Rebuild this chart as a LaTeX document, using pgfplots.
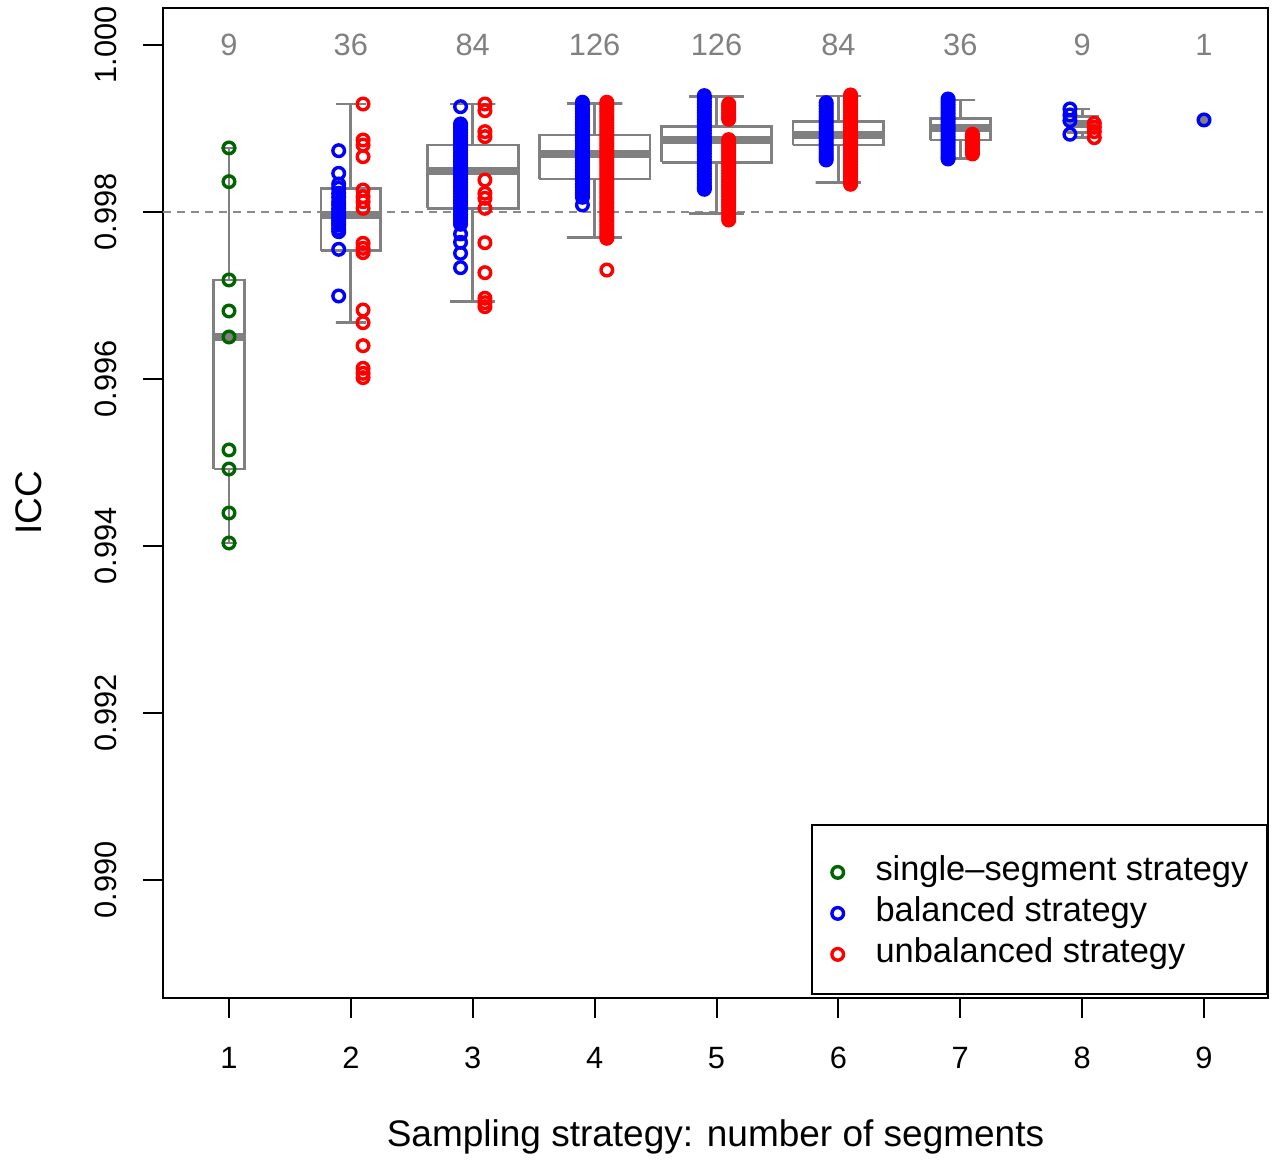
\documentclass[border=0pt]{standalone}
\usepackage{fontspec}
\setmainfont{Liberation Sans}
\usepackage{pgfplots}
\pgfplotsset{compat=1.18}
\definecolor{boxgray}{RGB}{128,128,128}
\definecolor{dashgray}{RGB}{140,140,140}
\definecolor{dgreen}{RGB}{0,100,0}
\pgfplotsset{
  bx/.style={forget plot, draw=boxgray, line width=1.4pt, mark=none, line join=miter},
  md/.style={forget plot, draw=boxgray, line width=4pt, mark=none},
  mypts/.style={only marks, mark=o, mark size=2.9pt, line width=1.7pt, every mark/.append style={line width=1.7pt, solid}},
}
\begin{document}
\begin{tikzpicture}
\begin{axis}[
  scale only axis, width=552.5pt, height=495pt,
  xmin=0.4585, xmax=9.525, ymin=0.988587, ymax=1.000443,
  axis line style={line width=1pt, black},
  xtick={1,...,9}, ytick={0.990,0.992,0.994,0.996,0.998,1.000},
  xtick pos=bottom, ytick pos=left, tick align=outside, major tick length=10pt,
  tick style={line width=1pt, black},
  scaled y ticks=false,
  /pgf/number format/assume math mode=true,
  ticklabel style={font=\fontsize{15.4}{18}\selectfont},
  yticklabel style={/pgf/number format/.cd, fixed, fixed zerofill, precision=3, /tikz/.cd, xshift=-13pt, rotate=90, anchor=base, inner sep=0pt},
  xticklabel style={anchor=north, inner sep=0pt, yshift=-14.3pt},
  xlabel={Sampling strategy: number of segments},
  ylabel={ICC},
  label style={font=\fontsize{18.5}{22}\selectfont},
  xlabel style={at={(axis description cs:0.5,-0.1505)}, anchor=base, inner sep=0pt},
  ylabel style={at={(axis description cs:-0.1099,0.5)}, anchor=base, inner sep=0pt},
  clip=false,
  legend style={draw=none, fill=none, at={(rel axis cs:0.6050,0.13939)}, anchor=north west,
    inner sep=0pt, row sep=8.5pt, column sep=16pt, font=\fontsize{17.2}{20}\selectfont,
    nodes={inner sep=0pt, text height=10pt, text depth=2pt}},
  legend cell align=left,
  legend image code/.code={\draw[#1] plot coordinates {(0pt,0pt)};},
]
% reference line
\addplot[draw=dashgray, line width=0.75pt, dash pattern=on 4pt off 3pt, forget plot] coordinates {(0.4585,0.998) (9.525,0.998)};
% boxplots: upper whisker+cap, box, lower whisker+cap, median
% group 1
\addplot[bx] coordinates {(0.9375,0.998767) (1.0625,0.998767) (1,0.998767) (1,0.997186)};
\addplot[bx] coordinates {(0.875,0.994922) (1.125,0.994922) (1.125,0.997186) (0.875,0.997186) (0.875,0.994922)};
\addplot[bx] coordinates {(1,0.994922) (1,0.994036) (0.9375,0.994036) (1.0625,0.994036)};
\addplot[md] coordinates {(0.875,0.996503) (1.125,0.996503)};
% group 2
\addplot[bx] coordinates {(1.8775,0.999293) (2.1225,0.999293) (2,0.999293) (2,0.998284)};
\addplot[bx] coordinates {(1.755,0.997537) (2.245,0.997537) (2.245,0.998284) (1.755,0.998284) (1.755,0.997537)};
\addplot[bx] coordinates {(2,0.997537) (2,0.996674) (1.8775,0.996674) (2.1225,0.996674)};
\addplot[md] coordinates {(1.755,0.997960) (2.245,0.997960)};
% group 3
\addplot[bx] coordinates {(2.814,0.999293) (3.186,0.999293) (3,0.999293) (3,0.998802)};
\addplot[bx] coordinates {(2.6275,0.998044) (3.3725,0.998044) (3.3725,0.998802) (2.6275,0.998802) (2.6275,0.998044)};
\addplot[bx] coordinates {(3,0.998044) (3,0.996926) (2.814,0.996926) (3.186,0.996926)};
\addplot[md] coordinates {(2.6275,0.998491) (3.3725,0.998491)};
% group 4
\addplot[bx] coordinates {(3.7725,0.999302) (4.2275,0.999302) (4,0.999302) (4,0.998922)};
\addplot[bx] coordinates {(3.545,0.998395) (4.455,0.998395) (4.455,0.998922) (3.545,0.998922) (3.545,0.998395)};
\addplot[bx] coordinates {(4,0.998395) (4,0.997697) (3.7725,0.997697) (4.2275,0.997697)};
\addplot[md] coordinates {(3.545,0.998695) (4.455,0.998695)};
% group 5
\addplot[bx] coordinates {(4.775,0.999381) (5.225,0.999381) (5,0.999381) (5,0.999022)};
\addplot[bx] coordinates {(4.55,0.998595) (5.45,0.998595) (5.45,0.999022) (4.55,0.999022) (4.55,0.998595)};
\addplot[bx] coordinates {(5,0.998595) (5,0.997984) (4.775,0.997984) (5.225,0.997984)};
\addplot[md] coordinates {(4.55,0.998859) (5.45,0.998859)};
% group 6
\addplot[bx] coordinates {(5.814,0.999389) (6.186,0.999389) (6,0.999389) (6,0.999082)};
\addplot[bx] coordinates {(5.6275,0.998802) (6.3725,0.998802) (6.3725,0.999082) (5.6275,0.999082) (5.6275,0.998802)};
\addplot[bx] coordinates {(6,0.998802) (6,0.998351) (5.814,0.998351) (6.186,0.998351)};
\addplot[md] coordinates {(5.6275,0.998926) (6.3725,0.998926)};
% group 7
\addplot[bx] coordinates {(6.8775,0.999341) (7.1225,0.999341) (7,0.999341) (7,0.999122)};
\addplot[bx] coordinates {(6.755,0.998862) (7.245,0.998862) (7.245,0.999122) (6.755,0.999122) (6.755,0.998862)};
\addplot[bx] coordinates {(7,0.998862) (7,0.998643) (6.8775,0.998643) (7.1225,0.998643)};
\addplot[md] coordinates {(6.755,0.999006) (7.245,0.999006)};
% group 8
\addplot[bx] coordinates {(7.9375,0.999234) (8.0625,0.999234) (8,0.999234) (8,0.999141)};
\addplot[bx] coordinates {(7.875,0.998950) (8.125,0.998950) (8.125,0.999141) (7.875,0.999141) (7.875,0.998950)};
\addplot[bx] coordinates {(8,0.998950) (8,0.998890) (7.9375,0.998890) (8.0625,0.998890)};
\addplot[md] coordinates {(7.875,0.999050) (8.125,0.999050)};
% group 9
\addplot[md] coordinates {(8.9585,0.999102) (9.0415,0.999102)};
% points
\addplot[mypts, draw=dgreen] coordinates {
(1,0.998767) (1,0.998363) (1,0.997186) (1,0.996814) (1,0.996503) (1,0.995150) (1,0.994922) (1,0.994395) (1,0.994036)};
\addlegendentry{single–segment strategy}
\addplot[mypts, draw=blue] coordinates {
(1.9,0.998734) (1.9,0.998463) (1.9,0.998335) (1.9,0.998284) (1.9,0.998224) (1.9,0.998176) (1.9,0.998120) (1.9,0.998084) (1.9,0.998040) (1.9,0.998004) (1.9,0.997964) (1.9,0.997930) (1.9,0.997904) (1.9,0.997870) (1.9,0.997844) (1.9,0.997800) (1.9,0.997764) (1.9,0.997553) (1.9,0.996994)
(2.9,0.999261) (2.9,0.999054) (2.9,0.999021) (2.9,0.998984) (2.9,0.998952) (2.9,0.998913) (2.9,0.998880) (2.9,0.998845) (2.9,0.998809) (2.9,0.998774) (2.9,0.998741) (2.9,0.998703) (2.9,0.998670) (2.9,0.998632) (2.9,0.998601) (2.9,0.998563) (2.9,0.998527) (2.9,0.998495) (2.9,0.998458) (2.9,0.998424) (2.9,0.998389) (2.9,0.998353) (2.9,0.998318) (2.9,0.998286) (2.9,0.998249) (2.9,0.998214) (2.9,0.998181) (2.9,0.998142) (2.9,0.998110) (2.9,0.998073) (2.9,0.998039) (2.9,0.998004) (2.9,0.997967) (2.9,0.997931) (2.9,0.997892) (2.9,0.997853) (2.9,0.997737) (2.9,0.997637) (2.9,0.997505) (2.9,0.997333)
(3.9,0.999314) (3.9,0.999281) (3.9,0.999244) (3.9,0.999211) (3.9,0.999173) (3.9,0.999139) (3.9,0.999105) (3.9,0.999068) (3.9,0.999034) (3.9,0.998999) (3.9,0.998963) (3.9,0.998927) (3.9,0.998894) (3.9,0.998858) (3.9,0.998823) (3.9,0.998787) (3.9,0.998753) (3.9,0.998717) (3.9,0.998684) (3.9,0.998648) (3.9,0.998613) (3.9,0.998577) (3.9,0.998544) (3.9,0.998508) (3.9,0.998474) (3.9,0.998438) (3.9,0.998403) (3.9,0.998368) (3.9,0.998334) (3.9,0.998298) (3.9,0.998263) (3.9,0.998229) (3.9,0.998204) (3.9,0.998176) (3.9,0.998084)
(4.9,0.999393) (4.9,0.999360) (4.9,0.999322) (4.9,0.999290) (4.9,0.999255) (4.9,0.999218) (4.9,0.999185) (4.9,0.999150) (4.9,0.999114) (4.9,0.999080) (4.9,0.999046) (4.9,0.999010) (4.9,0.998977) (4.9,0.998941) (4.9,0.998906) (4.9,0.998872) (4.9,0.998838) (4.9,0.998802) (4.9,0.998768) (4.9,0.998733) (4.9,0.998698) (4.9,0.998664) (4.9,0.998628) (4.9,0.998594) (4.9,0.998560) (4.9,0.998524) (4.9,0.998490) (4.9,0.998455) (4.9,0.998420) (4.9,0.998386) (4.9,0.998350) (4.9,0.998316) (4.9,0.998290) (4.9,0.998272)
(5.9,0.999309) (5.9,0.999275) (5.9,0.999240) (5.9,0.999204) (5.9,0.999170) (5.9,0.999134) (5.9,0.999100) (5.9,0.999066) (5.9,0.999030) (5.9,0.998996) (5.9,0.998962) (5.9,0.998926) (5.9,0.998892) (5.9,0.998858) (5.9,0.998822) (5.9,0.998788) (5.9,0.998754) (5.9,0.998718) (5.9,0.998684) (5.9,0.998650) (5.9,0.998623)
(6.9,0.999353) (6.9,0.999318) (6.9,0.999284) (6.9,0.999248) (6.9,0.999214) (6.9,0.999180) (6.9,0.999144) (6.9,0.999110) (6.9,0.999076) (6.9,0.999040) (6.9,0.999006) (6.9,0.998972) (6.9,0.998936) (6.9,0.998902) (6.9,0.998868) (6.9,0.998832) (6.9,0.998798) (6.9,0.998764) (6.9,0.998728) (6.9,0.998694) (6.9,0.998660) (6.9,0.998635)
(7.9,0.999234) (7.9,0.999162) (7.9,0.999094) (7.9,0.998931)
(9,0.999102)};
\addlegendentry{balanced strategy}
\addplot[mypts, draw=red] coordinates {
(2.1,0.999293) (2.1,0.998862) (2.1,0.998802) (2.1,0.998662) (2.1,0.998263) (2.1,0.998183) (2.1,0.998123) (2.1,0.998044) (2.1,0.997625) (2.1,0.997565) (2.1,0.997513) (2.1,0.996826) (2.1,0.996674) (2.1,0.996399) (2.1,0.996128) (2.1,0.996068) (2.1,0.996016)
(3.1,0.999293) (3.1,0.999213) (3.1,0.998962) (3.1,0.998902) (3.1,0.998383) (3.1,0.998224) (3.1,0.998164) (3.1,0.998044) (3.1,0.997632) (3.1,0.997273) (3.1,0.996967) (3.1,0.996914) (3.1,0.996866)
(4.1,0.999314) (4.1,0.999280) (4.1,0.999243) (4.1,0.999210) (4.1,0.999173) (4.1,0.999140) (4.1,0.999103) (4.1,0.999070) (4.1,0.999033) (4.1,0.999000) (4.1,0.998963) (4.1,0.998930) (4.1,0.998893) (4.1,0.998860) (4.1,0.998823) (4.1,0.998790) (4.1,0.998753) (4.1,0.998720) (4.1,0.998683) (4.1,0.998650) (4.1,0.998613) (4.1,0.998580) (4.1,0.998543) (4.1,0.998510) (4.1,0.998473) (4.1,0.998440) (4.1,0.998403) (4.1,0.998370) (4.1,0.998333) (4.1,0.998300) (4.1,0.998263) (4.1,0.998230) (4.1,0.998193) (4.1,0.998160) (4.1,0.998123) (4.1,0.998090) (4.1,0.998053) (4.1,0.998020) (4.1,0.997983) (4.1,0.997950) (4.1,0.997913) (4.1,0.997880) (4.1,0.997843) (4.1,0.997810) (4.1,0.997773) (4.1,0.997740) (4.1,0.997705) (4.1,0.997685) (4.1,0.997305)
(5.1,0.999293) (5.1,0.999262) (5.1,0.999230) (5.1,0.999195) (5.1,0.999160) (5.1,0.999132) (5.1,0.999110)
(5.1,0.998866) (5.1,0.998835) (5.1,0.998800) (5.1,0.998768) (5.1,0.998735) (5.1,0.998700) (5.1,0.998668) (5.1,0.998633) (5.1,0.998600) (5.1,0.998566) (5.1,0.998530) (5.1,0.998497) (5.1,0.998462) (5.1,0.998428) (5.1,0.998392) (5.1,0.998360) (5.1,0.998322) (5.1,0.998290) (5.1,0.998255) (5.1,0.998220) (5.1,0.998186) (5.1,0.998150) (5.1,0.998118) (5.1,0.998082) (5.1,0.998048) (5.1,0.998012) (5.1,0.997978) (5.1,0.997940) (5.1,0.997904)
(6.1,0.999401) (6.1,0.999366) (6.1,0.999332) (6.1,0.999296) (6.1,0.999262) (6.1,0.999228) (6.1,0.999192) (6.1,0.999158) (6.1,0.999124) (6.1,0.999088) (6.1,0.999054) (6.1,0.999020) (6.1,0.998984) (6.1,0.998950) (6.1,0.998916) (6.1,0.998880) (6.1,0.998846) (6.1,0.998812) (6.1,0.998776) (6.1,0.998742) (6.1,0.998708) (6.1,0.998672) (6.1,0.998638) (6.1,0.998604) (6.1,0.998568) (6.1,0.998534) (6.1,0.998500) (6.1,0.998464) (6.1,0.998430) (6.1,0.998396) (6.1,0.998360) (6.1,0.998332)
(7.1,0.998931) (7.1,0.998896) (7.1,0.998862) (7.1,0.998826) (7.1,0.998792) (7.1,0.998758) (7.1,0.998722) (7.1,0.998695)
(8.1,0.999062) (8.1,0.999014) (8.1,0.998962) (8.1,0.998890)};
\addlegendentry{unbalanced strategy}
% counts
\node[text=boxgray, inner sep=0pt, font=\fontsize{15.4}{18}\selectfont] at (axis cs:1,1.000) {9};
\node[text=boxgray, inner sep=0pt, font=\fontsize{15.4}{18}\selectfont] at (axis cs:2,1.000) {36};
\node[text=boxgray, inner sep=0pt, font=\fontsize{15.4}{18}\selectfont] at (axis cs:3,1.000) {84};
\node[text=boxgray, inner sep=0pt, font=\fontsize{15.4}{18}\selectfont] at (axis cs:4,1.000) {126};
\node[text=boxgray, inner sep=0pt, font=\fontsize{15.4}{18}\selectfont] at (axis cs:5,1.000) {126};
\node[text=boxgray, inner sep=0pt, font=\fontsize{15.4}{18}\selectfont] at (axis cs:6,1.000) {84};
\node[text=boxgray, inner sep=0pt, font=\fontsize{15.4}{18}\selectfont] at (axis cs:7,1.000) {36};
\node[text=boxgray, inner sep=0pt, font=\fontsize{15.4}{18}\selectfont] at (axis cs:8,1.000) {9};
\node[text=boxgray, inner sep=0pt, font=\fontsize{15.4}{18}\selectfont] at (axis cs:9,1.000) {1};
% legend frame
\draw[line width=1pt] (rel axis cs:0.5871,0.00404) rectangle (rel axis cs:0.9988,0.17475);
\end{axis}
\pgfresetboundingbox
\path[use as bounding box] ([shift={(-81.5pt,-81pt)}]current axis.south west) rectangle ([shift={(4.5pt,4pt)}]current axis.north east);
\end{tikzpicture}
\end{document}
